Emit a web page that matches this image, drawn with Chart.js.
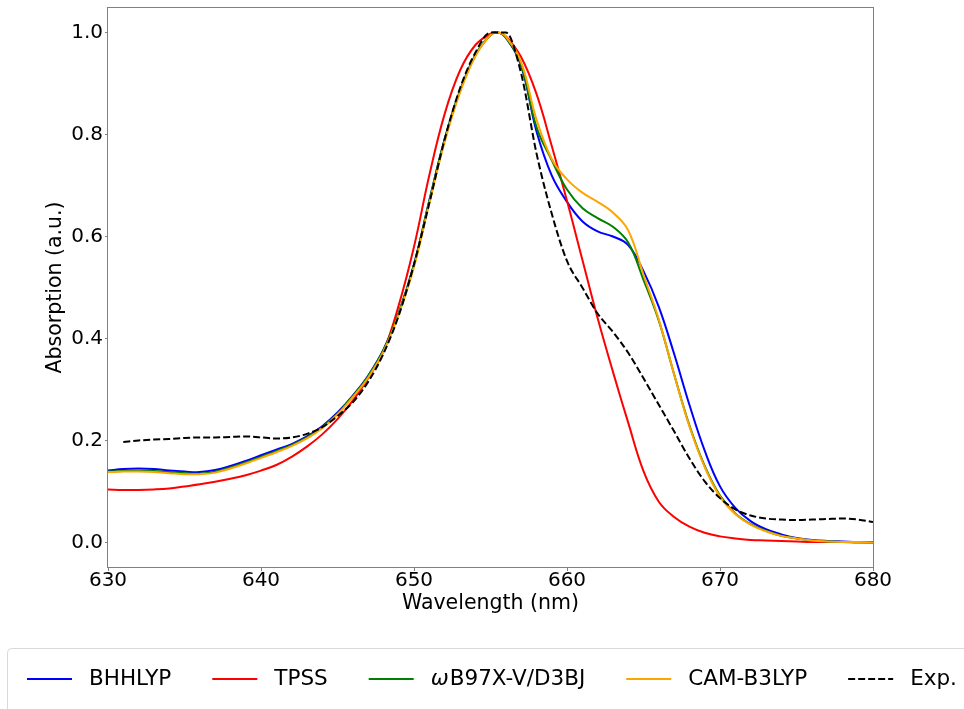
<!DOCTYPE html>
<html><head><meta charset="utf-8">
<script src="https://cdn.jsdelivr.net/npm/chart.js@4.4.0/dist/chart.umd.min.js"></script>
<style>html,body{margin:0;padding:0;background:#fff}</style>
</head><body>
<canvas id="c" width="964" height="709"></canvas>
<script>
// ---- data ----
const wavelength = [630,631,632,633,634,635,636,637,638,639,640,641,642,643,644,645,646,647,648,649,650,651,652,653,654,655,655.5,656,657,658,659,660,661,662,663,664,665,666,667,668,669,670,671,672,673,674,675,676,677,678,679,680];
const bhhlyp = [0.141,0.144,0.145,0.144,0.141,0.139,0.138,0.142,0.150,0.160,
  0.171,0.182,0.193,0.208,0.228,0.255,0.288,0.327,0.378,0.450,
  0.545,0.670,0.790,0.885,0.955,0.995,
  1.000,
  0.990,0.935,0.807,0.720,0.668,0.630,0.610,0.600,0.583,
  0.532,0.462,0.370,0.270,0.180,0.110,0.068,0.042,0.026,0.016,
  0.009,0.005,0.003,0.002,0.001,0.001];
const tpss = [0.104,0.103,0.103,0.104,0.106,0.110,0.114,0.119,0.125,0.132,
  0.141,0.152,0.168,0.188,0.212,0.242,0.278,0.322,0.375,0.465,
  0.580,0.720,0.840,0.925,0.975,0.998,
  1.000,
  0.993,0.952,0.880,0.778,0.670,0.555,0.440,0.335,0.235,
  0.140,0.080,0.050,0.031,0.019,0.012,0.008,0.005,0.004,0.003,
  0.002,0.001,0.001,0.001,0.000,0.000];
const wb97xv = [0.139,0.140,0.141,0.140,0.138,0.136,0.135,0.139,0.147,0.157,
  0.168,0.179,0.191,0.206,0.226,0.253,0.287,0.326,0.377,0.450,
  0.545,0.670,0.790,0.885,0.955,0.995,
  1.000,
  0.990,0.937,0.815,0.750,0.692,0.656,0.636,0.619,0.588,
  0.515,0.435,0.330,0.230,0.150,0.092,0.057,0.036,0.023,0.013,
  0.008,0.004,0.002,0.001,0.001,0.000];
const camb3lyp = [0.138,0.139,0.139,0.138,0.136,0.134,0.134,0.137,0.145,0.155,
  0.166,0.177,0.189,0.204,0.224,0.251,0.285,0.323,0.374,0.447,
  0.540,0.665,0.785,0.882,0.953,0.995,
  1.000,
  0.992,0.942,0.830,0.752,0.712,0.686,0.668,0.647,0.612,
  0.525,0.437,0.330,0.228,0.148,0.090,0.056,0.035,0.022,0.013,
  0.008,0.004,0.002,0.001,0.001,0.000];
const wavelengthExp = [631,632,633,634,635,636,637,638,639,640,641,642,643,644,645,646,647,648,649,650,651,652,653,654,655,656,657,658,659,660,661,662,663,664,665,666,667,668,669,670,671,672,673,674,675,676,677,678,679,680];
const expAbs = [0.197,0.200,0.202,0.203,0.205,0.206,0.206,0.207,0.208,
  0.206,0.204,0.206,0.213,0.226,0.248,0.275,0.315,0.370,0.445,
  0.545,0.665,0.790,0.890,0.960,1.000,1.000,
  0.920,0.764,0.645,0.552,0.500,0.449,0.413,0.372,
  0.322,0.270,0.218,0.165,0.120,0.087,0.065,0.053,0.047,0.045,
  0.044,0.045,0.046,0.047,0.045,0.040];
const seriesLabels = ['BHHLYP','TPSS','ωB97X-V/D3BJ','CAM-B3LYP','Exp.'];
const xTicks = [630,640,650,660,670,680];
const yTicks = [0.0,0.2,0.4,0.6,0.8,1.0];

const FONT = "'DejaVu Sans', sans-serif";
const pts = (xs, ys) => xs.map((x, i) => ({x, y: ys[i]}));
const mk = (label, xs, ys, color, order, dash, mono) => ({
  label, data: pts(xs, ys), borderColor: color, backgroundColor: color,
  borderWidth: 2, pointRadius: 0, fill: false, tension: 0.4,
  cubicInterpolationMode: mono ? 'monotone' : 'default',
  borderDash: dash || [], order
});

const framePlugin = {
  id: 'frame',
  afterDatasetsDraw(chart) {
    const {ctx, chartArea: a} = chart;
    ctx.save();
    ctx.strokeStyle = '#808080';
    ctx.lineWidth = 1;
    ctx.strokeRect(Math.round(a.left) - 0.5, Math.round(a.top) + 0.5, Math.round(a.right - a.left) + 1, Math.round(a.bottom - a.top) - 1);
    ctx.restore();
  }
};

const legendPlugin = {
  id: 'boxLegend',
  afterDraw(chart) {
    const ctx = chart.ctx;
    const LF = "21.5px " + FONT;
    ctx.save();
    ctx.beginPath();
    ctx.roundRect(7.5, 648.5, 1000, 100, 4);
    ctx.fillStyle = 'rgba(255,255,255,0.8)';
    ctx.fill();
    ctx.strokeStyle = '#d9d9d9';
    ctx.lineWidth = 1;
    ctx.stroke();
    const y = 679;
    let x = 27;
    ctx.textBaseline = 'middle';
    chart.data.datasets.forEach(ds => {
      ctx.beginPath();
      ctx.strokeStyle = ds.borderColor;
      ctx.lineWidth = 2;
      ctx.setLineDash(ds.borderDash || []);
      ctx.moveTo(x, y); ctx.lineTo(x + 45, y);
      ctx.stroke();
      ctx.setLineDash([]);
      let tx = x + 45 + 17;
      const label = ds.label;
      ctx.fillStyle = '#000';
      if (label.startsWith('ω')) {
        ctx.font = "italic " + LF;
        ctx.fillText('ω', tx, y);
        tx += ctx.measureText('ω').width + 1;
        ctx.font = LF;
        ctx.fillText(label.slice(1), tx, y);
        tx += ctx.measureText(label.slice(1)).width;
      } else {
        ctx.font = LF;
        ctx.fillText(label, tx, y);
        tx += ctx.measureText(label).width;
      }
      x = tx + 41;
    });
    ctx.restore();
  }
};

new Chart(document.getElementById('c'), {
  type: 'line',
  data: {
    datasets: [
      mk(seriesLabels[0], wavelength, bhhlyp, '#0000ff', 4),
      mk(seriesLabels[1], wavelength, tpss, '#ff0000', 3),
      mk(seriesLabels[2], wavelength, wb97xv, '#008000', 2),
      mk(seriesLabels[3], wavelength, camb3lyp, '#ffa500', 1),
      mk(seriesLabels[4], wavelengthExp, expAbs, '#000000', 0, [7, 3], true)
    ]
  },
  options: {
    responsive: false,
    animation: false,
    devicePixelRatio: 1,
    layout: { padding: { left: 0, top: 7, right: 91, bottom: 81 } },
    plugins: { legend: { display: false }, tooltip: { enabled: false } },
    scales: {
      x: {
        type: 'linear', min: 630, max: 680,
        afterBuildTicks: s => { s.ticks = xTicks.map(v => ({value: v})); },
        afterFit: s => { s.height = 60; s.paddingLeft = 0; s.paddingRight = 0; },
        ticks: { font: { family: FONT, size: 20, lineHeight: 1 }, color: '#000', padding: 0, maxRotation: 0,
                 callback: v => String(v) },
        grid: { display: true, drawOnChartArea: false, drawTicks: true, tickLength: 3, color: '#808080' },
        border: { display: false },
        title: { display: true, text: 'Wavelength (nm)', color: '#000', font: { family: FONT, size: 20.5 }, padding: { top: 0, bottom: 12 } }
      },
      y: {
        type: 'linear', min: -0.05, max: 1.05,
        afterBuildTicks: s => { s.ticks = yTicks.map(v => ({value: v})); },
        afterFit: s => { s.width = 108; s.paddingTop = 0; s.paddingBottom = 0; },
        ticks: { font: { family: FONT, size: 20 }, color: '#000', padding: 2,
                 callback: v => Number(v).toFixed(1) },
        grid: { display: true, drawOnChartArea: false, drawTicks: true, tickLength: 3, color: '#808080' },
        border: { display: false },
        title: { display: true, text: 'Absorption (a.u.)', color: '#000', font: { family: FONT, size: 20.5 }, padding: { top: 43, bottom: 0 } }
      }
    }
  },
  plugins: [framePlugin, legendPlugin]
});
</script>
</body></html>
